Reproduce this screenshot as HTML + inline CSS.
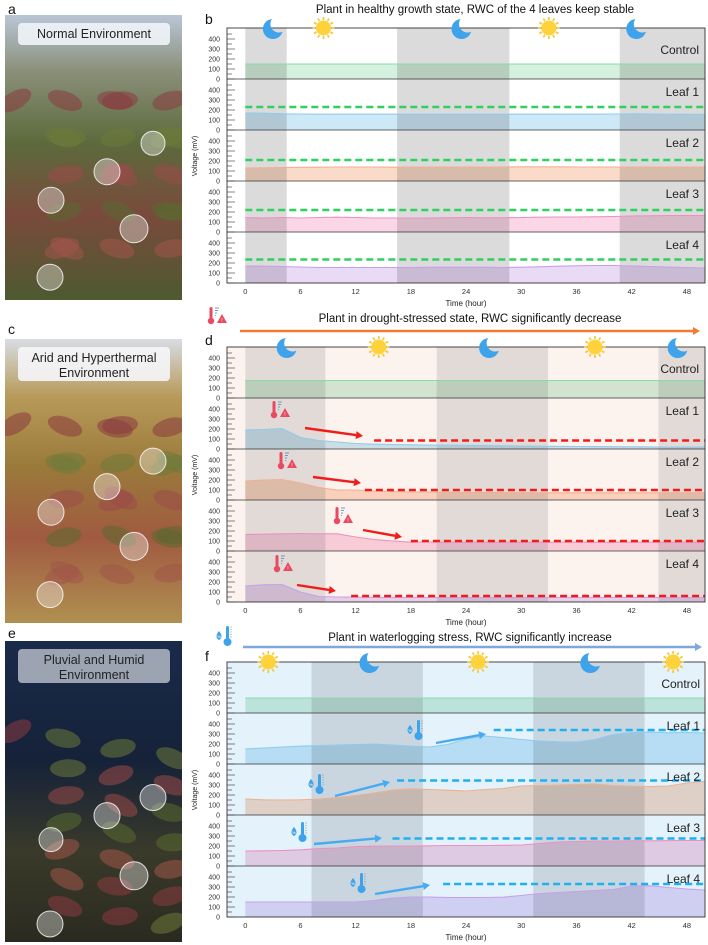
<!DOCTYPE html>
<html><head><meta charset="utf-8"><style>
html,body{margin:0;padding:0;background:#fff;width:708px;height:945px;overflow:hidden}
svg{display:block}
text{font-family:"Liberation Sans",sans-serif}
</style></head><body>
<svg id="fig" width="708" height="945" viewBox="0 0 708 945" xmlns="http://www.w3.org/2000/svg">
<defs id="defs">
<linearGradient id="photoA" x1="0" y1="0" x2="0" y2="1">
<stop offset="0" stop-color="#b9c6d6"/><stop offset="0.2" stop-color="#8a8f78"/><stop offset="0.45" stop-color="#5c6a3c"/><stop offset="0.7" stop-color="#7a4a3c"/><stop offset="1" stop-color="#4d5a30"/></linearGradient>
<linearGradient id="photoC" x1="0" y1="0" x2="0" y2="1">
<stop offset="0" stop-color="#d8dde4"/><stop offset="0.2" stop-color="#b89a5a"/><stop offset="0.45" stop-color="#9a7a3a"/><stop offset="0.7" stop-color="#a05a40"/><stop offset="1" stop-color="#b09050"/></linearGradient>
<linearGradient id="photoE" x1="0" y1="0" x2="0" y2="1">
<stop offset="0" stop-color="#1a2a4a"/><stop offset="0.4" stop-color="#152238"/><stop offset="0.7" stop-color="#3a3a2a"/><stop offset="1" stop-color="#2a2a20"/></linearGradient>
</defs>
<g id="root"></g>
</svg>
<script>
const hours=[0,2,4,6,8,10,12,14,16,18,20,22,24,26,28,30,32,34,36,38,40,42,44,46,48,50];
const xTicks=[0,6,12,18,24,30,36,42,48];
const yTicks=[0,100,200,300,400];
const rowNames=["Control","Leaf 1","Leaf 2","Leaf 3","Leaf 4"];
// panel b
const bControl=[150,150,150,150,150,150,150,150,150,150,150,150,150,150,150,150,150,150,150,150,150,150,150,150,150,150];
const bLeaf1=[170,168,162,160,158,158,158,158,158,158,158,158,158,158,158,158,158,158,158,158,160,162,160,158,157,157];
const bLeaf2=[130,132,135,137,138,140,140,140,138,138,140,140,140,140,140,142,142,142,140,140,140,140,140,140,140,140];
const bLeaf3=[145,140,145,140,145,148,145,140,140,140,140,142,145,142,142,145,148,150,150,152,155,160,162,165,165,165];
const bLeaf4=[170,168,165,160,155,155,155,155,155,155,158,158,158,158,155,158,162,168,172,175,175,170,165,160,155,150];
const bRef=[230,210,220,235];
const bRefStart=[0,0,0,0];
// panel d
const dControl=[175,175,175,175,175,175,175,175,175,175,175,175,175,175,175,175,175,175,175,175,175,175,175,175,175,175];
const dLeaf1=[190,195,205,115,85,70,55,48,45,42,40,38,36,34,32,30,28,27,25,24,23,22,21,20,20,20];
const dLeaf2=[190,200,205,170,125,100,100,90,85,80,80,78,76,75,74,73,72,72,72,72,72,72,72,72,72,72];
const dLeaf3=[165,168,172,175,172,172,140,115,100,88,90,88,88,88,88,88,88,88,88,88,88,88,88,88,88,88];
const dLeaf4=[160,172,175,100,55,50,48,46,45,45,45,45,45,45,45,45,45,45,45,45,45,45,45,45,45,45];
const dRef=[85,100,100,60];
const dRefStart=[14,13,18,11.5];
// panel f
const fControl=[150,150,150,150,150,150,150,150,150,150,150,150,150,150,150,150,150,150,150,150,150,150,150,150,150,150];
const fLeaf1=[150,160,170,178,185,190,195,200,190,178,170,195,250,280,265,245,230,222,220,245,295,315,320,312,315,310];
const fLeaf2=[160,152,150,152,160,175,195,220,250,262,255,248,240,255,265,290,295,300,305,310,295,288,285,290,320,335];
const fLeaf3=[150,152,155,162,175,180,195,198,200,200,202,205,205,205,207,210,225,240,245,250,250,252,252,253,255,255];
const fLeaf4=[150,150,150,150,150,150,150,165,190,200,200,195,195,195,198,215,235,245,255,265,275,310,312,295,280,270];
const fRef=[340,345,275,330];
const fRefStart=[27,16.5,16,21.5];

const NS="http://www.w3.org/2000/svg";
const root=document.getElementById('root');
const defs=document.getElementById('defs');
function mk(tag,attrs,parent,txt){const e=document.createElementNS(NS,tag);for(const k in attrs)e.setAttribute(k,attrs[k]);if(txt!==undefined)e.textContent=txt;(parent||root).appendChild(e);return e;}
const fills=["#cdeed8","#c4e6f6","#fad5c0","#f9cfe3","#e6d4f5"];
const strokes=["#8ed9a8","#8fcbec","#f0b090","#ee90bf","#c8a0ea"];
const X0=245.3, XS=9.2, LEFT=227, RIGHT=705;
const xs=h=>X0+h*XS;
let moonId=0;

function sun(g,x,y){const s=mk('g',{},g);
 for(let i=0;i<12;i++){const a=i*Math.PI/6;mk('line',{x1:x+Math.cos(a)*8,y1:y+Math.sin(a)*8,x2:x+Math.cos(a)*11,y2:y+Math.sin(a)*11,stroke:'#f7c531','stroke-width':1.6},s);}
 mk('circle',{cx:x,cy:y,r:7.5,fill:'#fdd23a'},s);}
function moon(g,x,y){const id='mm'+(moonId++);
 const m=mk('mask',{id},defs);mk('rect',{x:x-15,y:y-15,width:30,height:30,fill:'#fff'},m);mk('circle',{cx:x+6,cy:y-5,r:8.5,fill:'#000'},m);
 const c=mk('circle',{cx:x,cy:y,r:10,fill:'#3fa3ec',mask:`url(#${id})`},g);
 }
function heatIcon(g,x,y){const h=mk('g',{},g);
 mk('rect',{x:x-1.5,y:y-13,width:3,height:13,rx:1.5,fill:'#e84a5f'},h);mk('circle',{cx:x,cy:y+1,r:3.2,fill:'#e84a5f'},h);
 for(let i=0;i<4;i++)mk('line',{x1:x+4,y1:y-12+i*2.5,x2:x+8-i,y2:y-12+i*2.5,stroke:'#4a8ab8','stroke-width':0.8},h);
 mk('polygon',{points:`${x+11},${y-6} ${x+16},${y+3} ${x+6},${y+3}`,fill:'#e84a5f'},h);
 mk('text',{x:x+11,y:y+2,'font-size':5,fill:'#fff','text-anchor':'middle'},h,'!');}
function waterIcon(g,x,y){const h=mk('g',{},g);
 mk('path',{d:`M${x-6},${y-11} q-5,6 0,9 q5,-3 0,-9z`,fill:'#3fa3ec'},h);
 mk('text',{x:x-6,y:y-4,'font-size':4,fill:'#fff','text-anchor':'middle'},h,'%');
 mk('rect',{x:x+1,y:y-16,width:3,height:14,rx:1.5,fill:'#3fa3ec'},h);mk('circle',{cx:x+2.5,cy:y,r:4,fill:'#3fa3ec'},h);
 for(let i=0;i<5;i++)mk('line',{x1:x+5,y1:y-15+i*2.5,x2:x+7,y2:y-15+i*2.5,stroke:'#8aa',"stroke-width":0.6},h);}
function arrow(g,x1,y1,x2,y2,col,name){const a=mk('g',{},g);
 const ang=Math.atan2(y2-y1,x2-x1);const bx=x2-Math.cos(ang)*7,by=y2-Math.sin(ang)*7;
 mk('line',{x1,y1,x2:bx,y2:by,stroke:col,'stroke-width':2.4},a);
 mk('polygon',{points:`${x2},${y2} ${bx+Math.sin(ang)*4},${by-Math.cos(ang)*4} ${bx-Math.sin(ang)*4},${by+Math.cos(ang)*4}`,fill:col},a);}

function panel(o){
 const g=mk('g',{});
 const top=o.top, bot=o.top+255, rh=51;
 const bgR=mk('rect',{x:LEFT,y:top,width:RIGHT-LEFT,height:255,fill:o.bg},g);
 
 o.bands.forEach(b=>{const r=mk('rect',{x:xs(b[0]),y:top,width:Math.min(RIGHT,xs(b[1]))-xs(b[0]),height:255,fill:o.bandCol},g);
  });
 o.series.forEach((vals,ri)=>{
  const base=top+rh*(ri+1); const ys=v=>base-v*0.1;
  let d=`M${xs(hours[0])},${base}`;vals.forEach((v,i)=>{d+=` L${Math.min(RIGHT,xs(hours[i]))},${ys(v)}`;});d+=` L${RIGHT},${base}Z`;
  const ar=mk('path',{d,fill:fills[ri],opacity:0.85,style:'mix-blend-mode:multiply'},g);
  
  let l='';vals.forEach((v,i)=>{l+=(i?' L':'M')+Math.min(RIGHT,xs(hours[i]))+','+ys(v);});
  const ln=mk('path',{d:l,fill:'none',stroke:strokes[ri],'stroke-width':1.1},g);
  
  if(ri>0){const rl=mk('line',{x1:xs(o.refStart[ri-1]),x2:RIGHT,y1:ys(o.ref[ri-1]),y2:ys(o.ref[ri-1]),stroke:o.refCol,'stroke-width':2.4,'stroke-dasharray':'7,4'},g);
   }
  const lab=mk('text',{x:o.labX,y:top+rh*ri+(ri===0?26:17),'font-size':12,'text-anchor':'end',fill:'#222'},g,rowNames[ri]);
  
  yTicks.forEach(t=>{const tt=mk('text',{x:220,y:ys(t)+2.5,'font-size':7,'text-anchor':'end',fill:'#333'},g,t);
   });
  for(let t=0;t<=450;t+=50){if(t*0.1>rh-2)break;mk('line',{x1:LEFT,x2:LEFT+(t%100===0?8:5),y1:ys(t),y2:ys(t),stroke:'#333','stroke-width':0.6},g);}
  if(ri>0){const sep=mk('line',{x1:LEFT,x2:RIGHT,y1:top+rh*ri,y2:top+rh*ri,stroke:'#333','stroke-width':0.8},g);
   }
 });
 const fr=mk('rect',{x:LEFT,y:top,width:RIGHT-LEFT,height:255,fill:'none',stroke:'#333','stroke-width':0.9},g);
 
 xTicks.forEach(t=>{const tx=mk('text',{x:xs(t),y:bot+11,'font-size':7.5,'text-anchor':'middle',fill:'#333'},g,t);
  });
 const xt=mk('text',{x:466,y:bot+23,'font-size':8,'text-anchor':'middle',fill:'#222'},g,'Time (hour)');
 
 const yt=mk('text',{x:0,y:0,'font-size':7,'text-anchor':'middle',fill:'#222',transform:`translate(197,${top+128}) rotate(-90)`},g,'Voltage (mV)');
 
 const ti=mk('text',{x:o.titleX,y:o.titleY,'font-size':11.5,'text-anchor':'middle',fill:'#111'},g,o.title);
 
 o.suns.forEach(h=>sun(g,xs(h),top));
 o.moons.forEach(h=>moon(g,xs(h),top+1));
 return g;
}

// panel b
panel({name:'panel-b-chart',top:28,bg:'#ffffff',bandCol:'#dcdbdb',bands:[[0,4.5],[16.5,28.7],[40.7,52]],
 series:[bControl,bLeaf1,bLeaf2,bLeaf3,bLeaf4],ref:bRef,refStart:bRefStart,refCol:'#2ed05e',labX:699,
 title:'Plant in healthy growth state, RWC of the 4 leaves keep stable',titleX:475,titleY:13,suns:[8.5,33],moons:[3,23.5,42.5]});
// panel d
const gd=panel({name:'panel-d-chart',top:347,bg:'#fdf3ee',bandCol:'#e2dad7',bands:[[0,8.7],[20.8,32.9],[44.9,52]],
 series:[dControl,dLeaf1,dLeaf2,dLeaf3,dLeaf4],ref:dRef,refStart:dRefStart,refCol:'#f01c1c',labX:699,
 title:'Plant in drought-stressed state, RWC significantly decrease',titleX:470,titleY:322,suns:[14.5,38],moons:[4.5,26.5,47]});
arrow(gd,240,331,700,331,'#f47a30','drought-timeline-arrow');
heatIcon(gd,211,320);
[[274,414,305,428,363,436],[281,465,313,477,361,483],[337,520,363,530,402,537],[277,568,297,585,336,591]].forEach(a=>{heatIcon(gd,a[0],a[1]);arrow(gd,a[2],a[3],a[4],a[5],'#f01c1c','decrease-arrow');});
// panel f
const gf=panel({name:'panel-f-chart',top:662,bg:'#e3f2fb',bandCol:'#c9d6df',bands:[[7.2,19.3],[31.3,43.4]],
 series:[fControl,fLeaf1,fLeaf2,fLeaf3,fLeaf4],ref:fRef,refStart:fRefStart,refCol:'#1fb0f0',labX:700,
 title:'Plant in waterlogging stress, RWC significantly increase',titleX:470,titleY:641,suns:[2.5,25.3,46.5],moons:[13.5,37.5]});
arrow(gf,243,647,702,647,'#7fa6dd','waterlogging-timeline-arrow');
waterIcon(gf,225,642);
[[416,736,436,743,486,734],[317,790,335,796,390,782],[300,838,314,844,382,838],[359,889,375,894,430,885]].forEach(a=>{waterIcon(gf,a[0],a[1]);arrow(gf,a[2],a[3],a[4],a[5],'#4aaaf0','increase-arrow');});

// photos
function photo(name,y,h,grad,lines,boxCol,txtCol,circles){
 const g=mk('g',{});
 mk('rect',{x:5,y,width:177,height:h,fill:`url(#${grad})`},g);
 const leafCols=['#8a3a40','#6e7a3a','#9a4a48','#5a6a30','#a05548'];
 const cp='cp'+name;const cl=mk('clipPath',{id:cp},defs);mk('rect',{x:5,y,width:177,height:h},cl);
 const lg=mk('g',{'clip-path':`url(#${cp})`},g);
 for(let i=0;i<22;i++){const cx=15+((i*53)%160),cy=y+h*0.3+((i*37)%Math.floor(h*0.65));
  mk('ellipse',{cx,cy,rx:18,ry:9,fill:leafCols[i%5],opacity:0.55,transform:`rotate(${(i*29)%60-30} ${cx} ${cy})`},lg);}
 const bh=lines.length>1?34:22;
 const b=mk('rect',{x:18,y:y+8,width:152,height:bh,rx:4,fill:boxCol},g);
 
 lines.forEach((t,i)=>{const tx=mk('text',{x:94,y:y+23+i*15,'font-size':12.5,'text-anchor':'middle',fill:txtCol},g,t);
  });
 circles.forEach(c=>{const ci=mk('circle',{cx:c[0],cy:y+c[1]*h,r:c[2],fill:'rgba(255,255,255,0.35)',stroke:'rgba(255,255,255,0.8)','stroke-width':1},g);
  });
}
photo('photo-normal',15,285,'photoA',['Normal Environment'],'rgba(240,244,250,0.9)','#222',[[153,0.45,12],[107,0.55,13],[51,0.65,13],[134,0.75,14],[50,0.92,13]]);
photo('photo-arid',339,284,'photoC',['Arid and Hyperthermal','Environment'],'rgba(245,246,250,0.9)','#222',[[153,0.43,13],[107,0.52,13],[51,0.61,13],[134,0.73,14],[50,0.9,13]]);
photo('photo-pluvial',641,301,'photoE',['Pluvial and Humid','Environment'],'rgba(200,205,215,0.75)','#222',[[153,0.52,13],[107,0.58,13],[51,0.66,12],[134,0.78,14],[50,0.94,13]]);

// panel letters
[['a',8,10],['b',205,20],['c',8,330],['d',205,341],['e',8,634],['f',205,657]].forEach(p=>{
 const t=mk('text',{x:p[1],y:p[2]+4,'font-size':14,fill:'#111'},root,p[0]);
 
 });
</script>
</body></html>
